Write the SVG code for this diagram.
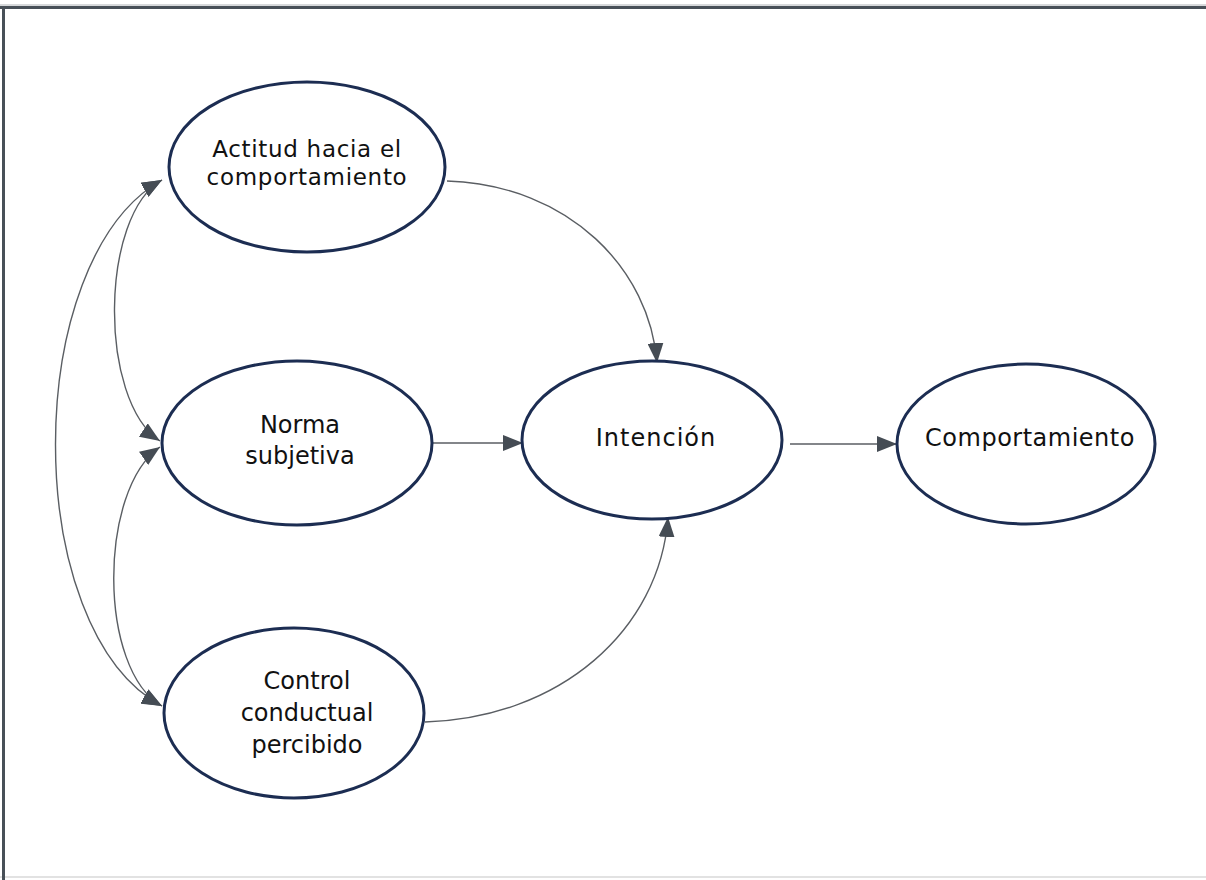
<svg xmlns="http://www.w3.org/2000/svg" width="1206" height="880" viewBox="0 0 1206 880">
  <defs>
    <style>
      .node ellipse { fill: #ffffff; stroke: #1c2d52; stroke-width: 3; }
      .node text { font-family: "DejaVu Sans", Verdana, sans-serif; fill: #111111; text-anchor: middle; }
      .edge { fill: none; stroke: #5a5e63; stroke-width: 1.4; marker-end: url(#arrow); }
      .edge.both { marker-start: url(#arrow); }
    </style>
    <marker id="arrow" viewBox="0 0 20 16" refX="20" refY="8" markerWidth="20" markerHeight="16" markerUnits="userSpaceOnUse" orient="auto-start-reverse">
      <path d="M0,0 L20,8 L0,16 z" fill="#454c54"/>
    </marker>
  </defs>

  <!-- page background and frame -->
  <rect x="0" y="0" width="1206" height="880" fill="#ffffff"/>
  <line x1="0" y1="877" x2="1206" y2="877" stroke="#e2e2e2" stroke-width="2"/>
  <line x1="0" y1="5" x2="1206" y2="5" stroke="#aeb2b6" stroke-width="1"/>
  <line x1="0" y1="7.5" x2="1206" y2="7.5" stroke="#485058" stroke-width="3"/>
  <line x1="3.5" y1="6" x2="3.5" y2="880" stroke="#485058" stroke-width="3"/>

  <!-- connectors -->
  <g id="connectors">
    <path class="edge" d="M447,181 C570,185 650,270 657,363"/>
    <path class="edge" d="M432,443 L523,443"/>
    <path class="edge" d="M790,444 L897,444"/>
    <path class="edge" d="M425,722 C560,718 660,630 668,517"/>
    <path class="edge both" d="M162,180 C100,215 98,400 160,441"/>
    <path class="edge both" d="M160,447 C98,490 98,670 162,706"/>
    <path class="edge both" d="M162,180 C20,260 20,630 162,706"/>
  </g>

  <!-- nodes -->
  <g id="actitud" class="node">
    <ellipse cx="307" cy="167" rx="138" ry="85"/>
    <text x="307" y="157" font-size="23" letter-spacing="0.7">Actitud hacia el</text>
    <text x="307" y="185" font-size="23" letter-spacing="0.7">comportamiento</text>
  </g>

  <g id="norma" class="node">
    <ellipse cx="297" cy="443" rx="135" ry="82"/>
    <text x="300" y="433" font-size="24">Norma</text>
    <text x="300" y="464" font-size="24">subjetiva</text>
  </g>

  <g id="intencion" class="node">
    <ellipse cx="652" cy="440" rx="130" ry="79"/>
    <text x="656" y="446" font-size="24" letter-spacing="1">Intención</text>
  </g>

  <g id="comportamiento" class="node">
    <ellipse cx="1026" cy="444" rx="129" ry="80"/>
    <text x="1030" y="446" font-size="24" letter-spacing="0.5">Comportamiento</text>
  </g>

  <g id="control" class="node">
    <ellipse cx="294" cy="713" rx="130" ry="85"/>
    <text x="307" y="689" font-size="24">Control</text>
    <text x="307" y="721" font-size="24">conductual</text>
    <text x="307" y="753" font-size="24">percibido</text>
  </g>
</svg>
